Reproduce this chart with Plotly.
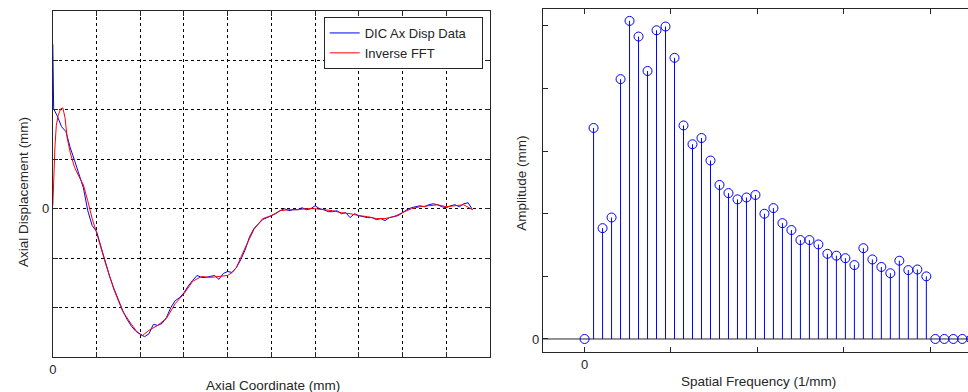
import plotly.graph_objects as go

# ---------------- Left panel data (axial displacement) ----------------
dic_x = [0.0, 0.02, 0.1, 0.2, 0.3, 0.4, 0.5, 0.6, 0.7, 0.8, 0.9, 1.0, 1.1, 1.2, 1.3, 1.4, 1.5,
         1.6, 1.7, 1.8, 1.9, 2.0, 2.1, 2.2, 2.3, 2.4, 2.5, 2.6, 2.7, 2.8, 2.9, 3.0, 3.1, 3.2,
         3.3, 3.4, 3.5, 3.6, 3.7, 3.8, 3.9, 4.0, 4.1, 4.2, 4.3, 4.4, 4.5, 4.6, 4.7, 4.8, 4.9,
         5.0, 5.1, 5.2, 5.3, 5.4, 5.5, 5.6, 5.7, 5.8, 5.9, 6.0, 6.1, 6.2, 6.3, 6.4, 6.5, 6.6,
         6.7, 6.8, 6.9, 7.0, 7.1, 7.2, 7.3, 7.4, 7.5, 7.6, 7.7, 7.8, 7.9, 8.0, 8.1, 8.2, 8.3,
         8.4, 8.5, 8.6, 8.7, 8.8, 8.9, 9.0, 9.1, 9.2, 9.3, 9.4, 9.5, 9.6]
dic_y = [3.33, 2.02, 1.88, 1.66, 1.56, 1.23, 0.97, 0.67, 0.42, -0.04, -0.34, -0.46, -0.77,
         -1.05, -1.37, -1.62, -1.86, -2.06, -2.24, -2.38, -2.48, -2.53, -2.59, -2.53, -2.34,
         -2.36, -2.32, -2.20, -2.00, -1.86, -1.80, -1.70, -1.56, -1.45, -1.35, -1.39, -1.39,
         -1.37, -1.35, -1.43, -1.31, -1.27, -1.29, -1.19, -1.03, -0.83, -0.57, -0.40, -0.30,
         -0.22, -0.18, -0.14, -0.10, -0.04, 0.00, -0.04, -0.02, -0.02, 0.02, -0.02, 0.00,
         0.06, 0.00, -0.02, -0.06, -0.06, -0.04, -0.10, -0.08, -0.18, -0.10, -0.14, -0.16,
         -0.18, -0.18, -0.22, -0.20, -0.24, -0.18, -0.16, -0.14, -0.08, -0.02, 0.02, 0.04,
         0.06, 0.04, 0.08, 0.10, 0.08, 0.04, 0.02, 0.06, 0.08, 0.04, 0.10, 0.12, -0.02]

ifft_x = [0.0, 0.02, 0.05, 0.08, 0.12, 0.18, 0.23, 0.28, 0.33, 0.4, 0.5, 0.6, 0.7, 0.8, 0.9,
          1.0, 1.2, 1.4, 1.6, 1.8, 1.9, 2.0, 2.05, 2.1, 2.2, 2.4, 2.6, 2.8, 3.0, 3.2, 3.4,
          3.6, 3.8, 4.0, 4.1, 4.2, 4.4, 4.6, 4.8, 5.0, 5.2, 5.4, 5.6, 5.8, 6.0, 6.2, 6.4,
          6.6, 6.8, 7.0, 7.2, 7.4, 7.6, 7.8, 8.0, 8.2, 8.4, 8.6, 8.8, 9.0, 9.2, 9.4, 9.6]
ifft_y = [0.06, 0.77, 1.27, 1.68, 1.88, 2.02, 2.04, 1.84, 1.43, 1.13, 0.83, 0.65, 0.48, 0.16,
          -0.20, -0.48, -1.09, -1.64, -2.08, -2.34, -2.46, -2.55, -2.57, -2.53, -2.46, -2.36,
          -2.22, -1.92, -1.72, -1.47, -1.37, -1.39, -1.37, -1.35, -1.29, -1.19, -0.79, -0.42,
          -0.20, -0.14, -0.04, -0.02, -0.02, 0.00, 0.00, -0.02, -0.04, -0.08, -0.10, -0.14,
          -0.16, -0.20, -0.20, -0.16, -0.08, 0.00, 0.04, 0.06, 0.08, 0.04, 0.06, 0.08, -0.02]

left_xticks = [0, 1, 2, 3, 4, 5, 6, 7, 8, 9, 10]
left_xticklabels = ["0", "", "", "", "", "", "", "", "", "", ""]
left_yticks = [-3, -2, -1, 0, 1, 2, 3, 4]
left_yticklabels = ["", "", "", "0", "", "", "", ""]

# ---------------- Right panel data (FFT amplitude spectrum) ----------------
freq_index = list(range(44))
freq_step = 0.1041
amplitude = [0.0, 3.37, 1.77, 1.94, 4.15, 5.08, 4.83, 4.28, 4.93, 4.99, 4.49, 3.41, 3.11,
             3.21, 2.85, 2.46, 2.33, 2.23, 2.26, 2.30, 2.00, 2.09, 1.85, 1.74, 1.58, 1.58,
             1.51, 1.36, 1.33, 1.29, 1.18, 1.45, 1.27, 1.15, 1.05, 1.25, 1.10, 1.11, 1.00,
             0.0, 0.0, 0.0, 0.0, 0.0]
freq = [k * freq_step for k in freq_index]

right_xticks = [0, 1, 2, 3, 4]
right_xticklabels = ["0", "", "", "", ""]
right_yticks = [0, 1, 2, 3, 4, 5]
right_yticklabels = ["0", "", "", "", "", ""]

BLUE = "#0000ff"
RED = "#ff0000"
AX = "#262626"
FONT = "Liberation Sans, Arial, sans-serif"
NBSP = "\u00a0"

fig = go.Figure()

fig.add_trace(go.Scatter(x=dic_x, y=dic_y, mode="lines", name="DIC Ax Disp Data" + NBSP * 3,
                         line=dict(color=BLUE, width=1), xaxis="x", yaxis="y"))
fig.add_trace(go.Scatter(x=ifft_x, y=ifft_y, mode="lines", name="Inverse FFT",
                         line=dict(color=RED, width=1), xaxis="x", yaxis="y"))

# stems
stem_x, stem_y = [], []
for f, a in zip(freq, amplitude):
    stem_x += [f, f, None]
    stem_y += [0, a, None]
fig.add_trace(go.Scatter(x=stem_x, y=stem_y, mode="lines", showlegend=False,
                         line=dict(color=BLUE, width=1), xaxis="x2", yaxis="y2"))
fig.add_trace(go.Scatter(x=freq, y=amplitude, mode="markers", showlegend=False,
                         marker=dict(symbol="circle-open", size=9, color=BLUE,
                                     line=dict(width=1, color=BLUE)),
                         xaxis="x2", yaxis="y2"))

W, H = 968, 392
common = dict(showline=True, linecolor=AX, linewidth=1, ticks="inside", ticklen=5,
              tickcolor=AX, zeroline=False, tickfont=dict(family=FONT, size=13, color=AX))

fig.update_layout(
    width=W, height=H,
    margin=dict(l=0, r=0, t=0, b=0),
    paper_bgcolor="white", plot_bgcolor="white",
    font=dict(family=FONT, size=13, color=AX),
    xaxis=dict(domain=[49 / W, 488 / W], range=[0, 10], tickmode="array",
               tickvals=left_xticks, ticktext=left_xticklabels, mirror="ticks",
               showgrid=True, gridcolor="black", griddash="dot", gridwidth=1,
               anchor="y", **common),
    yaxis=dict(domain=[(H - 357) / H, (H - 11) / H], range=[-3, 4], tickmode="array",
               tickvals=left_yticks, ticktext=left_yticklabels, mirror="ticks",
               showgrid=True, gridcolor="black", griddash="dot", gridwidth=1,
               anchor="x", **common),
    xaxis2=dict(domain=[541 / W, 1.0], range=[-0.484, 4.438], tickmode="array",
                tickvals=right_xticks, ticktext=right_xticklabels, mirror="ticks",
                showgrid=False, anchor="y2", **common),
    yaxis2=dict(domain=[(H - 352) / H, (H - 9) / H], range=[-0.208, 5.27], tickmode="array",
                tickvals=right_yticks, ticktext=right_yticklabels, mirror=False,
                showgrid=False, anchor="x2", **common),
    legend=dict(x=321 / W, y=1 - 17 / H, xanchor="left", yanchor="top",
                bgcolor="white", bordercolor=AX, borderwidth=1,
                font=dict(family=FONT, size=13, color=AX), tracegroupgap=0),
    showlegend=True,
)

# stem baseline
fig.add_shape(type="line", xref="x2 domain", x0=0, x1=1, yref="y2", y0=0, y1=0,
              line=dict(color=AX, width=1), layer="below")

ann = dict(showarrow=False, xref="paper", yref="paper",
           font=dict(family=FONT, size=13.5, color=AX))
fig.add_annotation(text="Axial Displacement (mm)", x=19 / W, y=1 - 192 / H,
                   textangle=-90, xanchor="center", yanchor="middle", **ann)
fig.add_annotation(text="Axial Coordinate (mm)", x=270 / W, y=1 - 385 / H,
                   xanchor="center", yanchor="middle", **ann)
fig.add_annotation(text="Amplitude (mm)", x=519 / W, y=1 - 183 / H,
                   textangle=-90, xanchor="center", yanchor="middle", **ann)
fig.add_annotation(text="Spatial Frequency (1/mm)", x=758 / W, y=1 - 381 / H,
                   xanchor="center", yanchor="middle", **ann)

fig.write_html("out.html", config={"displayModeBar": False},
               post_script="document.body.style.margin='0px';")
